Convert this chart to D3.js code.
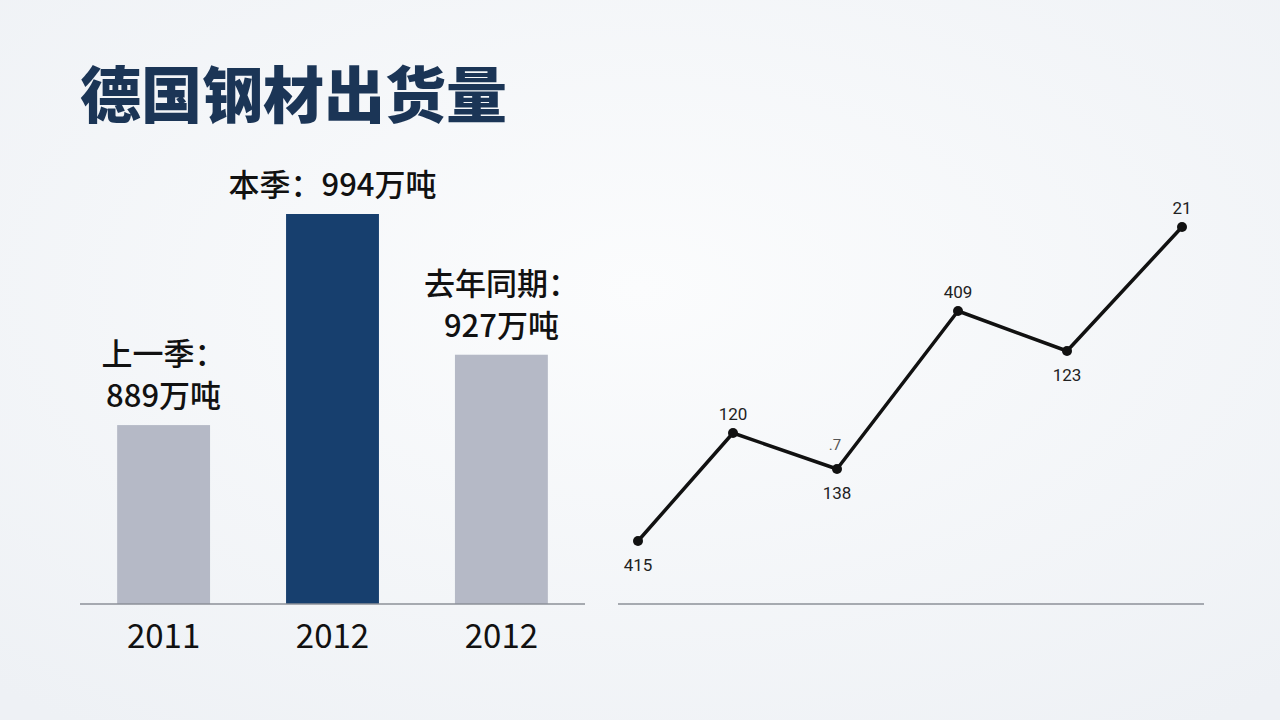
<!DOCTYPE html>
<html><head><meta charset="utf-8">
<script src="https://cdn.jsdelivr.net/npm/d3@7"></script>
<style>body{margin:0;background:#f4f6f9;}svg{display:block}</style>
</head><body>
<svg id="c" width="1280" height="720"></svg>
<script>
const title = "德国钢材出货量";
const barCats = ["2011", "2012", "2012b"];
const barYears = ["2011", "2012", "2012"];
const barValues = [889, 994, 924];
const barLabels = [["上一季：", "889万吨"], ["本季：994万吨"], ["去年同期：", "927万吨"]];
const lineX = [0, 95, 199, 320, 429, 544];
const lineValues = [63, 171, 135, 293, 253, 377];
const lineLabels = ["415", "120", "138", "409", "123", "21"];
const labelPos = ["below", "above", "below", "above", "below", "above"];

const svg = d3.select("#c");
const defs = svg.append("defs");
const g0 = defs.append("radialGradient").attr("id","bg").attr("cx","50%").attr("cy","40%").attr("r","75%");
g0.append("stop").attr("offset","0%").attr("stop-color","#fbfcfd");
g0.append("stop").attr("offset","100%").attr("stop-color","#eef1f5");
svg.append("rect").attr("width",1280).attr("height",720).attr("fill","url(#bg)");

svg.append("text").attr("x",80).attr("y",118).text(title)
  .attr("font-family","Noto Sans CJK SC").attr("font-weight",900).attr("font-size",61).attr("fill","#1b3556");

const font = "Noto Sans CJK SC, Noto Sans";
const x = d3.scaleBand().domain(barCats).range([80,585]).paddingInner(0.45).paddingOuter(0.22);
const y = d3.scaleLinear().domain([800,994]).range([604,214]);
const colors = ["#b5b9c6","#173f6e","#b5b9c6"];
svg.selectAll(".bar").data(barValues).join("rect")
  .attr("x",(d,i)=>x(barCats[i])).attr("width",x.bandwidth())
  .attr("y",d=>y(d)).attr("height",d=>604-y(d)).attr("fill",(d,i)=>colors[i]);
svg.append("line").attr("x1",80).attr("x2",585).attr("y1",604).attr("y2",604).attr("stroke","#8c9099").attr("stroke-width",1.5);
barYears.forEach((t,i)=>{
  svg.append("text").attr("x",x(barCats[i])+x.bandwidth()/2).attr("y",648).attr("text-anchor","middle")
    .attr("font-family",font).attr("font-size",33).attr("fill","#111").text(t);
  const lines = barLabels[i];
  lines.forEach((l,j)=>{
    svg.append("text").attr("x",x(barCats[i])+x.bandwidth()/2)
      .attr("y",y(barValues[i]) - 18 - (lines.length-1-j)*42).attr("text-anchor","middle")
      .attr("font-family",font).attr("font-weight",500).attr("font-size",31).attr("fill","#111").text(l);
  });
});

const lx = d3.scaleLinear().domain([0,544]).range([638,1182]);
const ly = d3.scaleLinear().domain([0,400]).range([604,204]);
svg.append("line").attr("x1",618).attr("x2",1204).attr("y1",604).attr("y2",604).attr("stroke","#8c9099").attr("stroke-width",1.5);
svg.append("path").datum(lineValues)
  .attr("d",d3.line().x((d,i)=>lx(lineX[i])).y(d=>ly(d)))
  .attr("fill","none").attr("stroke","#111").attr("stroke-width",3.5).attr("stroke-linejoin","round");
svg.selectAll(".pt").data(lineValues).join("circle")
  .attr("cx",(d,i)=>lx(lineX[i])).attr("cy",d=>ly(d)).attr("r",5).attr("fill","#111");
lineValues.forEach((d,i)=>{
  svg.append("text").attr("x",lx(lineX[i])).attr("y",ly(d)+(labelPos[i]==="above"?-13:30))
    .attr("text-anchor","middle").attr("font-family","Roboto, sans-serif").attr("font-size",17).attr("fill","#222").text(lineLabels[i]);
});
svg.append("text").attr("x",lx(lineX[2])-2).attr("y",ly(lineValues[2])-19).attr("text-anchor","middle")
  .attr("font-family","Roboto, sans-serif").attr("font-size",15).attr("fill","#555").text(".7");
</script>
</body></html>
